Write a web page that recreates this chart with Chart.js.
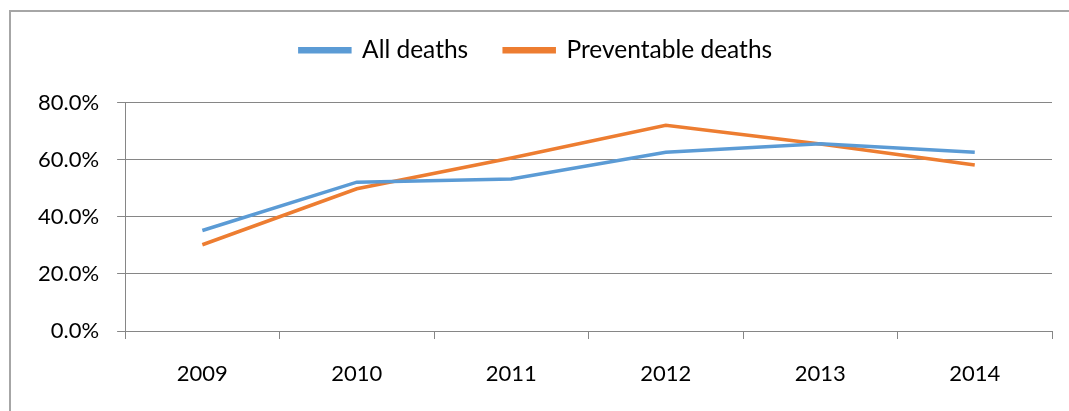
<!DOCTYPE html>
<html>
<head>
<meta charset="utf-8">
<script src="https://cdn.jsdelivr.net/npm/chart.js@4/dist/chart.umd.min.js"></script>
<style>
  html, body { margin: 0; padding: 0; background: #fff; overflow: hidden; }
  #frame { position: absolute; left: 9px; top: 10px; width: 1060px; height: 401px; border: 2px solid #a6a6a6; border-right: none; border-bottom: none; box-sizing: border-box; }
  #wrap { position: absolute; left: 0; top: 0; width: 1069px; height: 411px; }
</style>
</head>
<body>
<div id="frame"></div>
<div id="wrap"><canvas id="deathsChart"></canvas></div>
<script>
// values
var years = ["2009", "2010", "2011", "2012", "2013", "2014"];
var allDeaths = [0.352, 0.521, 0.532, 0.626, 0.656, 0.626];
var preventableDeaths = [0.302, 0.498, 0.606, 0.720, 0.655, 0.581];
var yTicks = [0, 0.2, 0.4, 0.6, 0.8];

var blue = "#5b9bd5";
var orange = "#ed7d31";
var gridColor = "#868686";
var tickFont = { family: "Lato", size: 22, lineHeight: 1 };
var legendFont = { family: "Lato", size: 24.5 };

var ctx = document.getElementById("deathsChart");

// extra room between the legend and the plot
var legendGap = {
    id: "legendGap",
    beforeInit: function(chart) {
        var fit = chart.legend.fit;
        chart.legend.fit = function() {
            fit.bind(chart.legend)();
            this.height += 30;
        };
    }
};

var chart = new Chart(ctx, {
    type: "line",
    data: {
        labels: years,
        datasets: [
            {
                label: "All deaths",
                data: allDeaths,
                borderColor: blue,
                backgroundColor: blue,
                borderWidth: 3.5,
                pointRadius: 0,
                tension: 0
            },
            {
                label: "Preventable deaths",
                data: preventableDeaths,
                borderColor: orange,
                backgroundColor: orange,
                borderWidth: 3.5,
                pointRadius: 0,
                tension: 0
            }
        ]
    },
    plugins: [legendGap],
    options: {
        responsive: true,
        maintainAspectRatio: false,
        animation: false,
        layout: {
            padding: { left: 20, right: 17, top: 2, bottom: 2 }
        },
        plugins: {
            tooltip: { enabled: false },
            legend: {
                position: "top",
                labels: {
                    boxWidth: 50,
                    boxHeight: 3,
                    padding: 36,
                    color: "#000",
                    font: legendFont
                }
            }
        },
        scales: {
            x: {
                offset: true,
                grid: {
                    offset: true,
                    drawOnChartArea: false,
                    color: gridColor,
                    tickLength: 8
                },
                border: { color: gridColor },
                ticks: {
                    color: "#000",
                    font: tickFont,
                    padding: 24,
                    maxRotation: 0
                }
            },
            y: {
                min: 0,
                max: 0.8,
                afterBuildTicks: function(scale) {
                    scale.ticks = yTicks.map(function(v) { return { value: v }; });
                },
                grid: {
                    color: gridColor,
                    tickLength: 8
                },
                border: { color: gridColor },
                ticks: {
                    color: "#000",
                    font: tickFont,
                    padding: 18,
                    callback: function(v) { return (v * 100).toFixed(1) + "%"; }
                }
            }
        }
    }
});
</script>
</body>
</html>
